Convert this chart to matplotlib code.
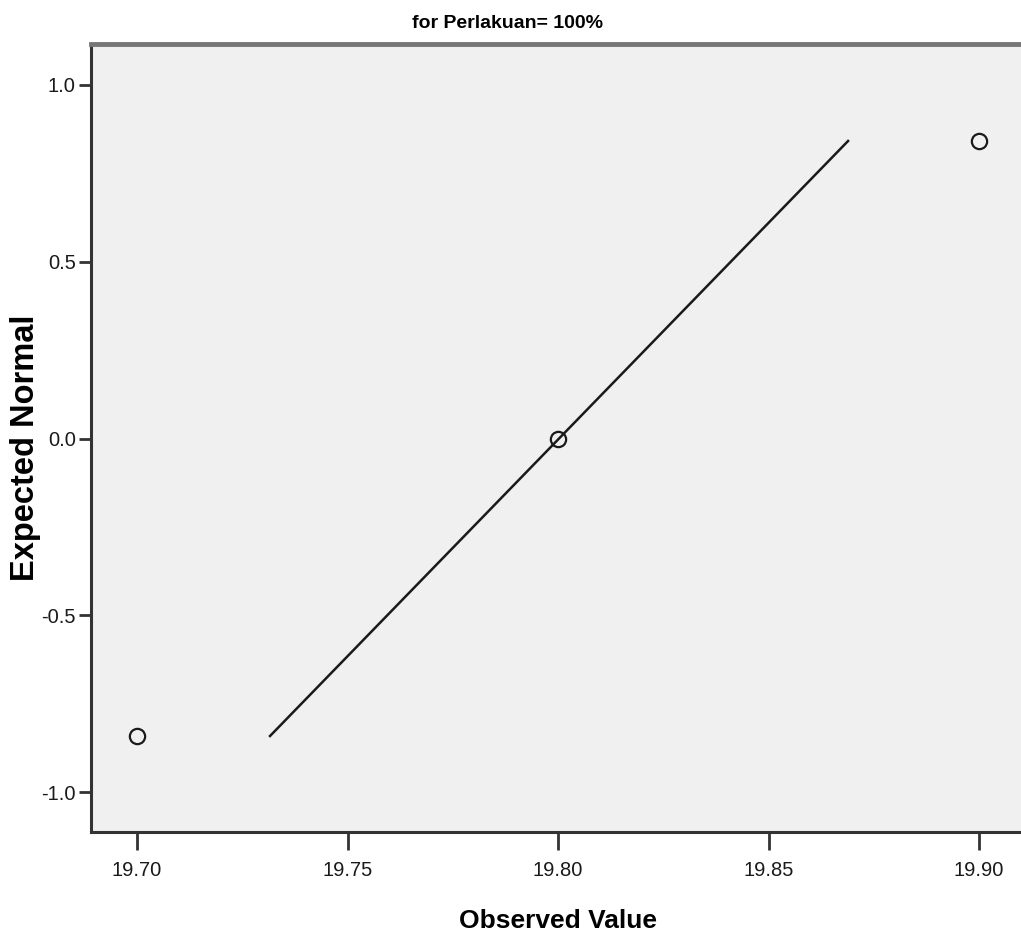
import matplotlib
matplotlib.use("Agg")
import matplotlib.pyplot as plt
from matplotlib import font_manager

observed = [19.70, 19.80, 19.90]
expected = [-0.8416, 0.0, 0.8416]
line_x = [19.7316, 19.8689]
line_y = [-0.8416, 0.8416]
xticks = [19.70, 19.75, 19.80, 19.85, 19.90]
yticks = [-1.0, -0.5, 0.0, 0.5, 1.0]

names = {f.name for f in font_manager.fontManager.ttflist}
narrow = 'Liberation Sans Narrow' if 'Liberation Sans Narrow' in names else 'Liberation Sans'

fig = plt.figure(figsize=(10.21, 9.42), dpi=100)
W, H = 1021, 942
left, right, top, bottom = 91, 1030, 44, 832
ax = fig.add_axes([left / W, 1 - bottom / H, (right - left) / W, (bottom - top) / H])
ax.set_facecolor('#F0F0F0')

ax.plot(line_x, line_y, color='#1a1a1a', lw=1.8)
ax.plot(observed, expected, linestyle='none', marker='o', markersize=11,
        markerfacecolor='none', markeredgecolor='#1a1a1a', markeredgewidth=1.6)

ax.set_xlim(19.70 - 46 / 4210, 19.70 + (right - 137) / 4210)
ax.set_ylim(-1.0 - 40 / 353.5, 1.0 + 41 / 353.5)
ax.set_xticks(xticks)
ax.set_xticklabels([f"{v:.2f}" for v in xticks])
ax.set_yticks(yticks)
ax.set_yticklabels([f"{v:.1f}" for v in yticks])

for lab in ax.get_xticklabels() + ax.get_yticklabels():
    lab.set_fontfamily([narrow, 'DejaVu Sans'])
    lab.set_fontsize(14.5)
    lab.set_color('#1a1a1a')
ax.tick_params(axis='x', length=13, width=2, direction='out', pad=8, color='#333333')
ax.tick_params(axis='y', length=9, width=2, direction='out', pad=2, color='#333333')

ax.spines['left'].set_color('#333333')
ax.spines['left'].set_linewidth(2.2)
ax.spines['bottom'].set_color('#333333')
ax.spines['bottom'].set_linewidth(2.2)
ax.spines['top'].set_color('#777777')
ax.spines['top'].set_linewidth(3.5)
ax.spines['right'].set_visible(False)

fig.text(507 / W, 1 - 23 / H, 'for Perlakuan= 100%', ha='center', va='center',
         fontsize=14, fontweight='bold', family=[narrow, 'DejaVu Sans'])
fig.text(558 / W, 1 - 921 / H, 'Observed Value', ha='center', va='center',
         fontsize=19, fontweight='bold', family=[narrow, 'DejaVu Sans'])
fig.text(26 / W, 1 - 448 / H, 'Expected Normal', ha='center', va='center', rotation=90,
         fontsize=23.5, fontweight='bold', family=['Liberation Sans', 'DejaVu Sans'])

fig.savefig('out.png', dpi=100, facecolor='white')
